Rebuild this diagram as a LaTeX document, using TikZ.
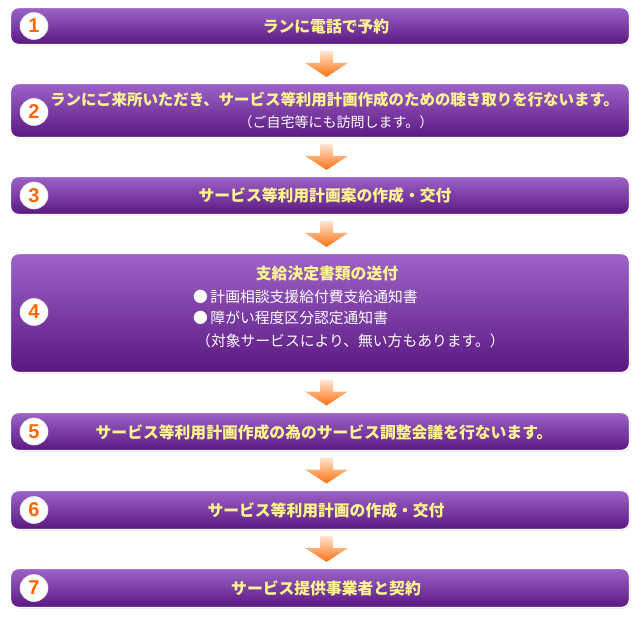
\documentclass[tikz,border=0pt]{standalone}
\usepackage{fontspec}
\newfontfamily\jp{Noto Sans CJK JP}
\newfontfamily\numfont{Liberation Sans}
\usetikzlibrary{shadows,shapes.geometric}
\definecolor{ptop}{HTML}{9D63C9}
\definecolor{pbot}{HTML}{5A1880}
\definecolor{ytext}{HTML}{FFF68F}
\definecolor{onum}{HTML}{FF6600}
\definecolor{atop}{HTML}{FFE6D2}
\definecolor{abot}{HTML}{FF7010}
\tikzset{
  stepbox/.style={draw=white, line width=1.4pt, rounded corners=8pt,
    top color=ptop, bottom color=pbot, minimum width=619pt, inner sep=0pt,
    drop shadow={opacity=0.35, shadow xshift=0.8pt, shadow yshift=-1pt, fill=black!40}},
  numcirc/.style={ellipse, fill=white, draw=black!12, line width=0.6pt, minimum width=28pt, minimum height=27pt, inner sep=0pt,
    font=\numfont\bfseries\fontsize{20}{20}\selectfont, text=onum},
  head/.style={font=\jp\bfseries\fontsize{15.8}{15.8}\selectfont, text=ytext, inner sep=0pt},
  sub/.style={font=\jp\fontsize{14.8}{14.8}\selectfont, text=white, inner sep=0pt},
  flowarrow/.style={top color=atop, bottom color=abot, draw=none}
}
\begin{document}
\begin{tikzpicture}[x=1pt,y=-1pt]
\useasboundingbox (0,0) rectangle (640,620);
% boxes
\node[stepbox, minimum height=37pt] (b1) at (320,26) {};
\node[stepbox, minimum height=54pt] (b2) at (320,110.5) {};
\node[stepbox, minimum height=38pt] (b3) at (320,195.5) {};
\node[stepbox, minimum height=119pt] (b4) at (320,313) {};
\node[stepbox, minimum height=38pt] (b5) at (320,431.5) {};
\node[stepbox, minimum height=39pt] (b6) at (320,510) {};
\node[stepbox, minimum height=39pt] (b7) at (320,588) {};
% numbers
\node[numcirc] (n1) at (34,26) {1};
\node[numcirc] (n2) at (34,112) {2};
\node[numcirc] (n3) at (34,195.5) {3};
\node[numcirc] (n4) at (34,312) {4};
\node[numcirc] (n5) at (34,431.5) {5};
\node[numcirc] (n6) at (34,510) {6};
\node[numcirc] (n7) at (34,588) {7};
% texts
\node[head] (t1) at (326,26) {ランに電話で予約};
\node[head, font=\jp\bfseries\fontsize{15.45}{15.45}\selectfont] (t2) at (334.5,100) {ランにご来所いただき、サービス等利用計画作成のための聴き取りを行ないます。};
\node[sub, font=\jp\fontsize{14}{14}\selectfont] (t2b) at (336,122) {（ご自宅等にも訪問します。）};
\node[head] (t3) at (325,195.5) {サービス等利用計画案の作成・交付};
\node[head] (t4) at (327,274) {支給決定書類の送付};
\node[sub, anchor=west] (t4a) at (193,297) {●\,計画相談支援給付費支給通知書};
\node[sub, anchor=west] (t4b) at (193,318) {●\,障がい程度区分認定通知書};
\node[sub, anchor=west] (t4c) at (196,341) {（対象サービスにより、無い方もあります。）};
\node[head] (t5) at (324,432) {サービス等利用計画作成の為のサービス調整会議を行ないます。};
\node[head] (t6) at (326,510) {サービス等利用計画の作成・交付};
\node[head] (t7) at (326,588) {サービス提供事業者と契約};
% arrows between boxes
\foreach \a/\b in {b1/b2, b2/b3, b3/b4, b4/b5, b5/b6, b6/b7}{
  \path (\a.south) -- (\b.north) coordinate[pos=0.5] (m\a);
  \shade[flowarrow] ([shift={(0,-13)}]m\a) -- ([shift={(13,-13)}]m\a)
    -- ([shift={(13,-1)}]m\a) -- ([shift={(28,-1)}]m\a)
    -- ([shift={(6.5,13)}]m\a) -- ([shift={(-15,-1)}]m\a)
    -- ([shift={(0,-1)}]m\a) -- cycle;
}
\end{tikzpicture}
\end{document}
